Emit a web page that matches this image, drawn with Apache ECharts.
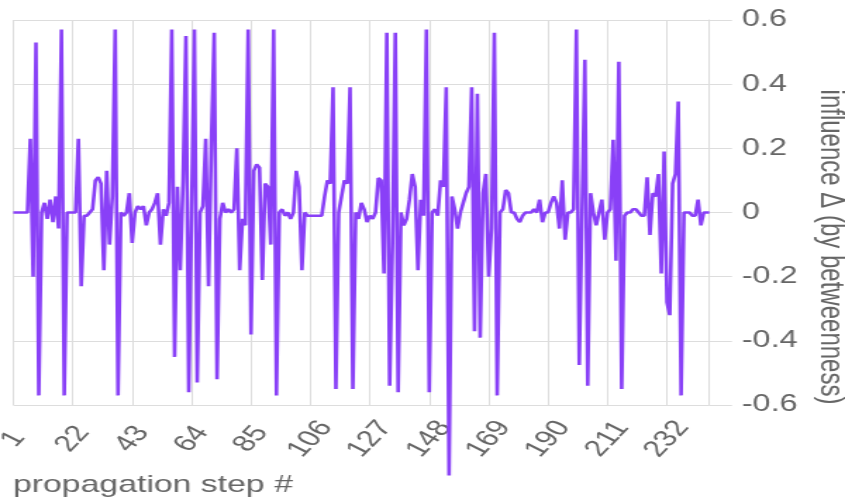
<!DOCTYPE html>
<html>
<head>
<meta charset="utf-8">
<script src="https://cdn.jsdelivr.net/npm/echarts@6/dist/echarts.min.js"></script>
<style>
  html, body { margin: 0; padding: 0; background: #fff; overflow: hidden; }
  #chart { width: 600px; height: 499px; transform: scaleX(1.408333); transform-origin: 0 0; }
</style>
</head>
<body>
<div id="chart"></div>
<script>
// influence delta (by betweenness) per propagation step, steps 1..247
const influence = [
  0, 0, 0, 0, 0, 0, 0.23, -0.2, 0.53, -0.57,
  0, 0.03, -0.02, 0.04, -0.03, 0.05, -0.05, 0.57, -0.57, 0,
  0, 0, 0, 0.23, -0.23, -0.01, -0.01, 0.0, 0.01, 0.1,
  0.11, 0.09, -0.18, 0.13, -0.1, 0.05, 0.57, -0.57, 0.0, -0.01,
  0.0, 0.06, -0.095, 0.0, 0.02, 0.01, 0.02, -0.04, 0.0, 0.01,
  0.03, 0.06, -0.1, 0.01, -0.01, 0.03, 0.57, -0.45, 0.08, -0.18,
  0.1, 0.55, -0.56, 0.0, 0.57, -0.53, 0.0, 0.02, 0.23, -0.23,
  0.22, 0.56, -0.52, -0.02, 0.03, 0.0, 0.01, 0.0, 0.01, 0.2,
  -0.18, -0.02, -0.04, 0.57, -0.38, 0.13, 0.15, 0.14, -0.21, 0.09,
  0.08, -0.1, 0.57, -0.57, 0.0, 0.01, -0.01, 0.0, -0.02, 0.0,
  0.13, 0.08, -0.18, 0.0, -0.01, -0.01, -0.01, -0.01, -0.01, -0.01,
  0.05, 0.1, 0.09, 0.39, -0.55, 0.0, 0.05, 0.1, 0.09, 0.39,
  -0.55, 0.0, -0.02, 0.03, 0.01, -0.03, -0.01, -0.02, 0.0, 0.107,
  0.1, -0.19, 0.56, -0.54, -0.1, 0.56, -0.56, 0.0, -0.04, -0.02,
  0.04, 0.12, 0.08, -0.18, 0.04, -0.01, 0.57, -0.56, 0.0, 0.01,
  -0.01, 0.1, 0.08, 0.39, -0.82, 0.05, 0.01, -0.05, 0.0, 0.03,
  0.06, 0.08, 0.39, -0.37, 0.37, -0.39, 0.06, 0.12, -0.2, -0.05,
  0.56, -0.57, 0.0, 0.01, 0.07, 0.06, 0.0, 0.0, -0.02, -0.03,
  -0.01, 0.0, 0.0, 0.0, 0.01, 0.0, 0.04, -0.03, 0.0, 0.0,
  0.03, 0.05, 0.03, -0.05, 0.1, -0.085, 0.0, 0.0, 0.01, 0.57,
  -0.475, 0.0, 0.476, -0.54, 0.06, 0.0, -0.04, 0.0, 0.04, -0.085,
  0.0, 0.01, 0.227, -0.15, 0.47, -0.55, -0.01, 0.0, 0.0, 0.01,
  0.01, 0.0, -0.01, -0.01, 0.11, -0.07, 0.06, 0.05, 0.12, -0.19,
  0.19, -0.28, -0.32, 0.09, 0.12, 0.346, -0.57, 0.0, 0.0, 0.0,
  -0.01, -0.01, 0.04, -0.04, 0.0, 0.0, 0.0
];
// category labels: propagation step numbers
const steps = influence.map((_, i) => String(i + 1));
// x tick labels shown on the axis
const tickLabels = ['1', '22', '43', '64', '85', '106', '127', '148', '169', '190', '211', '232'];
const xTitle = 'propagation step #';
const yTitle = 'influence Δ (by betweenness)';

const FONT = "'Liberation Sans', Arial, sans-serif";
const TXT = '#666666';
const GRID = '#dddddd';
const showTick = (idx, val) => tickLabels.indexOf(String(val)) >= 0;

const chart = echarts.init(document.getElementById('chart'), null, { renderer: 'canvas' });
chart.setOption({
  animation: false,
  backgroundColor: '#ffffff',
  grid: { left: 9.45, right: 96.3, top: 20, bottom: 94, containLabel: false, outerBoundsMode: 'none' },
  xAxis: {
    type: 'category',
    data: steps,
    boundaryGap: false,
    name: xTitle,
    nameLocation: 'middle',
    nameGap: 68,
    nameTextStyle: { fontFamily: FONT, fontSize: 24, color: TXT, padding: [0, 296, 0, 0] },
    axisLine: { show: true, lineStyle: { color: GRID, width: 1 } },
    axisTick: { show: true, interval: showTick, length: 15, lineStyle: { color: GRID } },
    splitLine: { show: true, interval: showTick, lineStyle: { color: GRID, width: 1 } },
    axisLabel: {
      show: true, interval: showTick, rotate: 55, margin: 34,
      align: 'center', verticalAlign: 'middle',
      fontFamily: FONT, fontSize: 23, color: TXT
    }
  },
  yAxis: {
    type: 'value',
    position: 'right',
    min: -0.6, max: 0.6, interval: 0.2,
    name: yTitle,
    nameLocation: 'middle',
    nameRotate: -90,
    nameGap: 70,
    nameTextStyle: { fontFamily: FONT, fontSize: 24, color: TXT, padding: [0, 0, 0, 69] },
    axisLine: { show: true, lineStyle: { color: GRID, width: 1 } },
    axisTick: { show: true, length: 16, lineStyle: { color: GRID } },
    splitLine: { show: true, lineStyle: { color: GRID, width: 1 } },
    axisLabel: {
      margin: 23, fontFamily: FONT, fontSize: 23, color: TXT,
      formatter: v => String(Math.round(v * 10) / 10)
    }
  },
  series: [{
    type: 'line',
    data: influence,
    showSymbol: false,
    symbol: 'none',
    clip: false,
    lineStyle: { color: '#8940f7', width: 2.6 },
    emphasis: { disabled: true }
  }]
});
</script>
</body>
</html>
